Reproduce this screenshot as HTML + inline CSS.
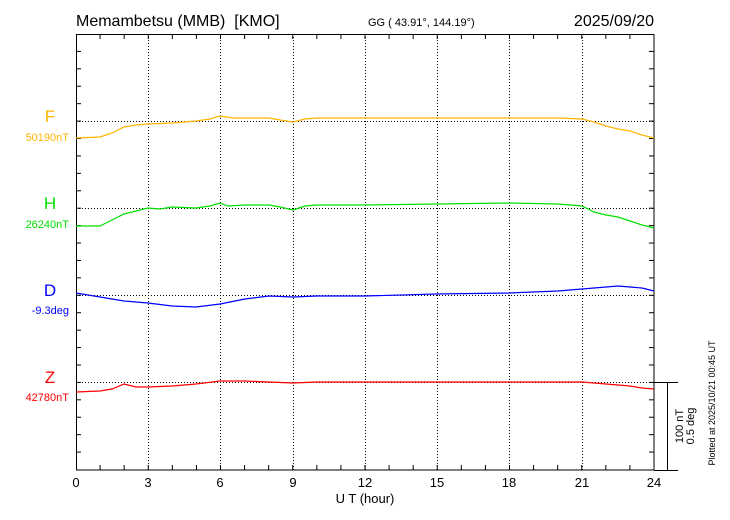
<!DOCTYPE html>
<html><head><style>
body{margin:0;background:#fff;}
svg{display:block;font-family:"Liberation Sans",sans-serif;}
</style></head><body>
<svg width="730" height="520" viewBox="0 0 730 520">
<rect width="730" height="520" fill="#fff"/>
<text x="76" y="26" font-size="16" xml:space="preserve">Memambetsu (MMB)  [KMO]</text>
<text x="368" y="26" font-size="11">GG ( 43.91°, 144.19°)</text>
<text x="654" y="26" font-size="16" text-anchor="end">2025/09/20</text>
<g stroke="#000" stroke-width="1" stroke-dasharray="1,2" fill="none">
<line x1="148.5" y1="34" x2="148.5" y2="470"/><line x1="220.5" y1="34" x2="220.5" y2="470"/>
<line x1="293.5" y1="34" x2="293.5" y2="470"/><line x1="365.5" y1="34" x2="365.5" y2="470"/>
<line x1="437.5" y1="34" x2="437.5" y2="470"/><line x1="509.5" y1="34" x2="509.5" y2="470"/>
<line x1="582.5" y1="34" x2="582.5" y2="470"/>
<line x1="76" y1="121.5" x2="654" y2="121.5"/><line x1="76" y1="208.5" x2="654" y2="208.5"/>
<line x1="76" y1="295.5" x2="654" y2="295.5"/><line x1="76" y1="382.5" x2="654" y2="382.5"/>
</g>
<g stroke="#000" stroke-width="1" fill="none">
<rect x="76.5" y="34.5" width="577.5" height="435.5"/>
<line x1="654" y1="470.5" x2="678" y2="470.5"/>
<line x1="654" y1="382.5" x2="678" y2="382.5"/>
<line x1="667.5" y1="382" x2="667.5" y2="470"/>
</g>
<g id="ticks" stroke="#000" stroke-width="1"></g>
<g font-size="13" text-anchor="middle">
<text x="76" y="487">0</text><text x="148" y="487">3</text><text x="220" y="487">6</text><text x="293" y="487">9</text><text x="365" y="487">12</text><text x="437" y="487">15</text><text x="509" y="487">18</text><text x="582" y="487">21</text><text x="654" y="487">24</text>
<text x="365" y="503">U T (hour)</text>
</g>
<text x="50" y="122" font-size="17" fill="#ffb400" text-anchor="middle">F</text>
<text x="69" y="141" font-size="11" fill="#ffb400" text-anchor="end">50190nT</text>
<text x="50" y="209" font-size="17" fill="#00e000" text-anchor="middle">H</text>
<text x="69" y="228" font-size="11" fill="#00e000" text-anchor="end">26240nT</text>
<text x="50" y="296" font-size="17" fill="#0000ff" text-anchor="middle">D</text>
<text x="69" y="314" font-size="11" fill="#0000ff" text-anchor="end">-9.3deg</text>
<text x="50" y="383" font-size="17" fill="#ff0000" text-anchor="middle">Z</text>
<text x="69" y="401" font-size="11" fill="#ff0000" text-anchor="end">42780nT</text>
<text transform="translate(683,426) rotate(-90)" font-size="11" text-anchor="middle">100 nT</text>
<text transform="translate(694,426) rotate(-90)" font-size="11" text-anchor="middle">0.5 deg</text>
<text transform="translate(715,403) rotate(-90)" font-size="9" text-anchor="middle">Plotted at 2025/10/21 00:45 UT</text>
<g fill="none" stroke-width="1.2">
<polyline stroke="#ffb400" points="76,138 100,137 112,133 124,127 136,125 148,124 172,123 196,121 210,119 220,116 233,118 245,118 269,118 280,120 293,122 305,119 317,118 365,118 437,118 509,118 558,118 582,119 594,122 606,126 618,129 630,131 642,135 654,138"/>
<polyline stroke="#00e000" points="76,226 100,226 112,220 124,214 136,211 148,208 160,209 172,207 196,208 210,206 220,203 228,206 245,205 269,205 280,207 293,210 305,206 317,205 365,205 437,204 509,203 558,204 582,206 594,212 606,215 618,217 630,221 642,225 654,228"/>
<polyline stroke="#0000ff" points="76,293 100,297 124,301 148,303 172,306 196,307 220,304 245,299 269,296 293,297 317,296 365,296 437,294 509,293 558,291 582,289 594,288 606,287 618,286 630,287 642,288 654,291"/>
<polyline stroke="#ff0000" points="76,392 100,391 112,389 124,384 136,387 148,387 172,386 196,384 220,381 245,381 269,382 293,383 317,382 365,382 437,382 509,382 558,382 582,382 594,383 606,384 618,385 630,386 642,388 654,389"/>
</g>
</svg>
<script>
var g=document.getElementById('ticks'),s='';
for(var h=1;h<24;h++){var x=76+h*24.083;s+='<line x1="'+x+'" y1="34" x2="'+x+'" y2="39"/><line x1="'+x+'" y1="470" x2="'+x+'" y2="465"/>';}
for(var k=1;k<25;k++){var y=34+k*17.42;s+='<line x1="76" y1="'+y+'" x2="81" y2="'+y+'"/><line x1="654" y1="'+y+'" x2="649" y2="'+y+'"/>';}
g.innerHTML=s;
</script>
</body></html>
